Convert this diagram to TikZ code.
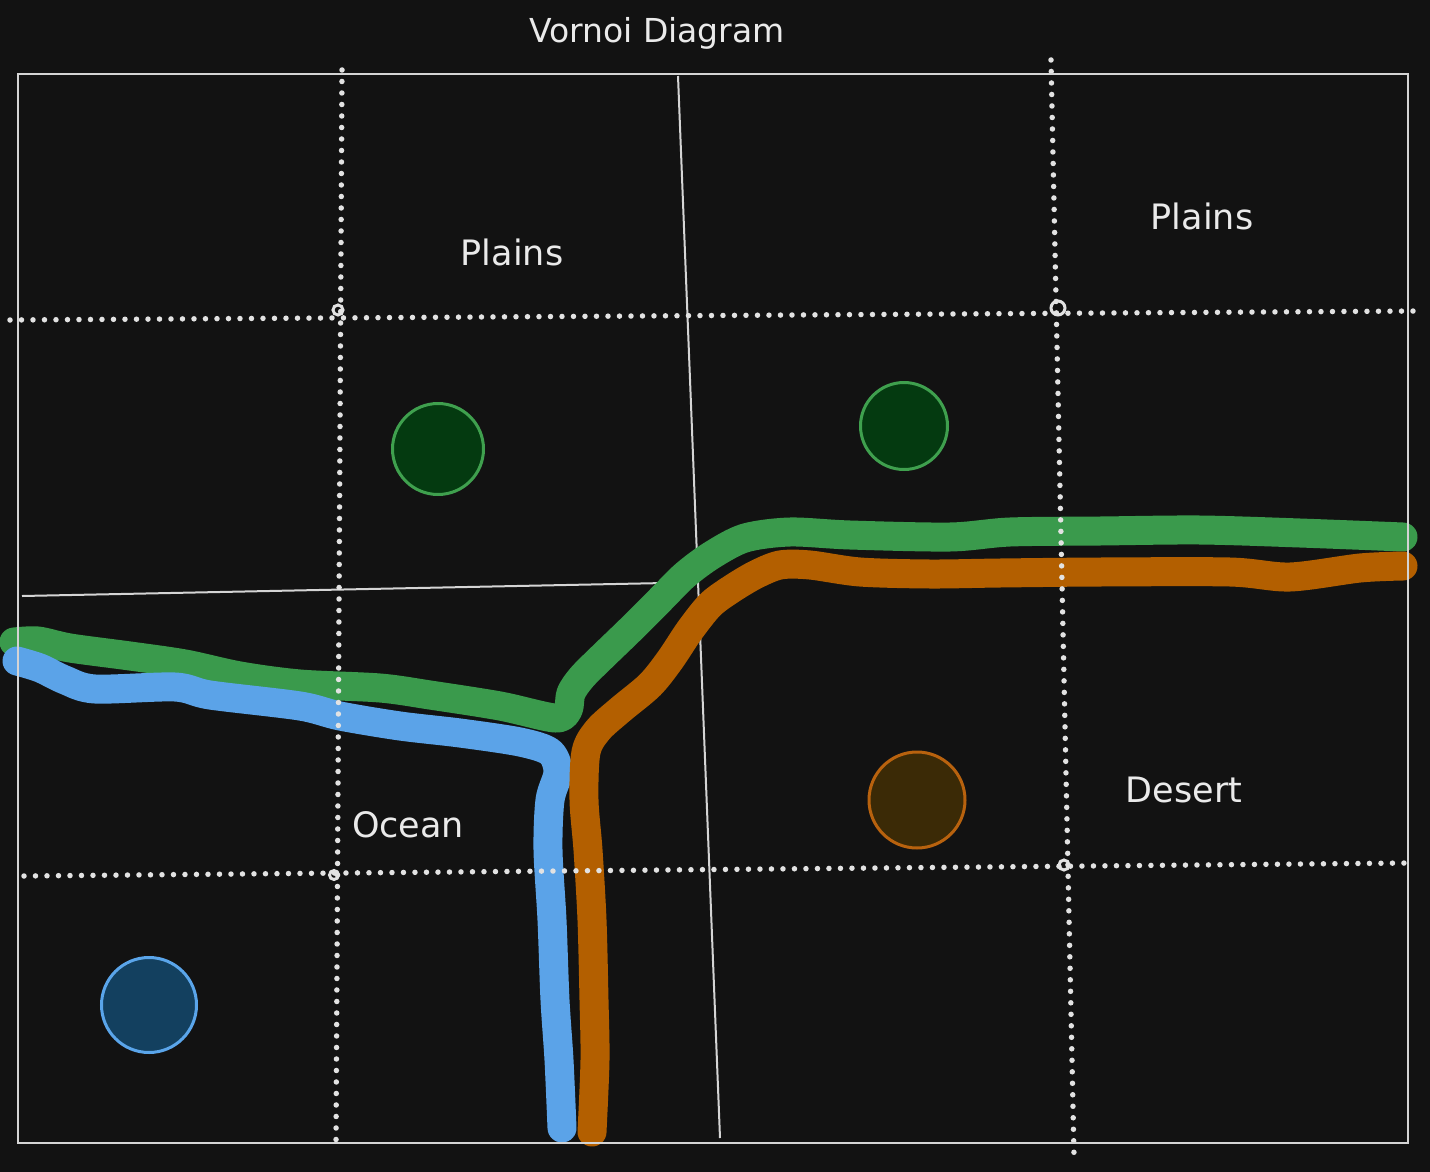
\documentclass[tikz,border=0pt]{standalone}
\usepackage{fontspec}
\setmainfont{DejaVu Sans}
\begin{document}
\begin{tikzpicture}[x=1pt,y=-1pt,
  thinline/.style={draw=linegray,line width=2pt},
  dotline/.style={draw=dotgray,line width=5.5pt,line cap=round,dash pattern=on 0pt off 11.5pt},
  knot/.style={circle,draw=dotgray,line width=3pt,minimum size=10pt,inner sep=0pt},
  river/.style={line width=29pt,line cap=round,line join=round},
  site/.style={circle,line width=3pt,inner sep=0pt},
  label/.style={text=txtgray,font=\fontsize{35}{40}\selectfont,inner sep=0pt}]
\definecolor{bg}{HTML}{121212}
\definecolor{linegray}{HTML}{D4D4D4}
\definecolor{dotgray}{HTML}{E2E2E2}
\definecolor{txtgray}{HTML}{EAEAEA}
\definecolor{pgreen}{HTML}{3A9A4C}
\definecolor{pblue}{HTML}{5BA3E8}
\definecolor{porange}{HTML}{B35F00}
\definecolor{gfill}{HTML}{043A10}
\definecolor{gline}{HTML}{3FA04E}
\definecolor{ofill}{HTML}{3B2A06}
\definecolor{oline}{HTML}{B8620E}
\definecolor{bfill}{HTML}{13405F}
\definecolor{bline}{HTML}{5AA5EA}
\fill[bg] (0,0) rectangle (1430,1172);
\useasboundingbox (0,0) rectangle (1430,1172);
% voronoi edges
\coordinate (vt) at (678,76); \coordinate (vb) at (720,1138);
\coordinate (hl) at (22,596); \coordinate (hr) at (665,583);
\draw[thinline] (vt) -- (vb);
\draw[thinline] (hl) -- (hr);
% sites
\node[site,draw=gline,fill=gfill,minimum size=91pt] (g1) at (438,449) {};
\node[site,draw=gline,fill=gfill,minimum size=87pt] (g2) at (904,426) {};
\node[site,draw=oline,fill=ofill,minimum size=96pt] (o1) at (917,800) {};
\node[site,draw=bline,fill=bfill,minimum size=95pt] (b1) at (149,1005) {};
% rivers / borders
\draw[river,pgreen] plot[smooth,tension=0.5] coordinates {(14,642) (38,641) (70,648) (130,656) (185,664) (240,676) (300,684) (380,688) (430,695) (500,706) (555,718) (568,710) (571,693) (582,677) (602,657) (630,630) (660,600) (685,575) (712,555) (745,538) (790,532) (850,535) (950,537) (1010,532) (1100,531) (1200,530) (1300,533) (1403,537)};
\draw[river,pblue] plot[smooth,tension=0.5] coordinates {(17,661) (40,668) (65,680) (95,689) (175,687) (210,695) (300,706) (340,716) (400,726) (460,733) (520,742) (550,752) (558,772) (550,800) (548,850) (552,920) (555,1000) (559,1060) (562,1128)};
\draw[river,porange] plot[smooth,tension=0.5] coordinates {(1403,566) (1360,568) (1290,577) (1230,572) (1100,572) (1000,573) (930,574) (860,572) (810,565) (780,565) (755,575) (730,590) (710,605) (690,630) (670,660) (650,685) (620,710) (598,730) (586,752) (584,800) (588,850) (592,920) (594,1000) (595,1060) (592,1132)};
% grid
\coordinate (d1t) at (342,70); \coordinate (d1b) at (336,1143);
\coordinate (d2t) at (1051,60); \coordinate (d2b) at (1074,1155);
\coordinate (d3l) at (10,320); \coordinate (d3r) at (1418,311);
\coordinate (d4l) at (24,876); \coordinate (d4r) at (1408,863);
\draw[dotline] (d1t) -- (d1b);
\draw[dotline] (d2t) -- (d2b);
\draw[dotline] (d3l) -- (d3r);
\draw[dotline] (d4l) -- (d4r);
\node[knot] (k1) at (338,310) {};
\node[knot,minimum size=14pt] (k2) at (1058,308) {};
\node[knot,minimum size=10pt] (k3) at (1064,865) {};
\node[knot,minimum size=9pt] (k4) at (334,875) {};
% frame
\coordinate (fa) at (18,74); \coordinate (fb) at (1408,1143);
\draw[thinline] (fa) rectangle (fb);
% labels
\node[label,font=\fontsize{33}{38}\selectfont] (title) at (657,33) {Vornoi Diagram};
\node[label] (plains1) at (512,252) {Plains};
\node[label] (plains2) at (1202,216) {Plains};
\node[label] (ocean) at (408,825) {Ocean};
\node[label] (desert) at (1184,790) {Desert};
\end{tikzpicture}
\end{document}
